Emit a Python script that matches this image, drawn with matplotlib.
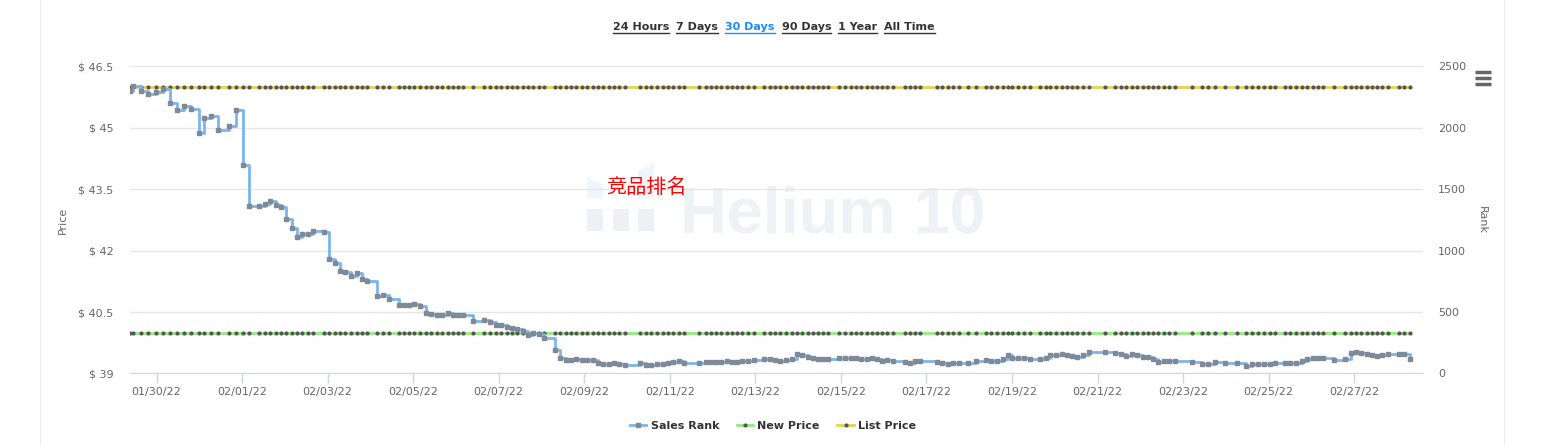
import datetime as dt
import matplotlib
matplotlib.use("Agg")
import matplotlib.pyplot as plt
import matplotlib.dates as mdates
from matplotlib.lines import Line2D
from matplotlib.patches import Rectangle, Polygon

plt.rcParams['font.family'] = ['DejaVu Sans', 'Noto Sans CJK SC']

# sales rank samples: days after 01/30/22 00:00, rank
rank_days = [-0.62, -0.54, -0.37, -0.19, -0.01, 0.145, 0.31, 0.48, 0.64, 0.80,
             0.99, 1.11, 1.27, 1.44, 1.69, 1.86, 2.03, 2.16, 2.40, 2.53,
             2.65, 2.79, 2.91, 3.03, 3.17, 3.28, 3.40, 3.53, 3.66, 3.91,
             4.03, 4.17, 4.29, 4.41, 4.54, 4.68, 4.80, 4.91, 5.16, 5.29,
             5.44, 5.67, 5.79, 5.90, 6.03, 6.16, 6.29, 6.41, 6.55, 6.67,
             6.81, 6.92, 7.05, 7.17, 7.41, 7.66, 7.80, 7.94, 8.05, 8.19,
             8.31, 8.43, 8.56, 8.69, 8.81, 8.94, 9.06, 9.32, 9.44, 9.57,
             9.69, 9.81, 9.94, 10.07, 10.20, 10.32, 10.44, 10.57, 10.69, 10.82,
             10.95, 11.30, 11.44, 11.55, 11.69, 11.85, 11.96, 12.08, 12.22, 12.33,
             12.69, 12.84, 12.96, 13.08, 13.20, 13.33, 13.45, 13.58, 13.69, 13.83,
             13.97, 14.21, 14.34, 14.46, 14.57, 14.71, 14.85, 14.98, 15.10, 15.22,
             15.34, 15.47, 15.59, 15.70, 15.96, 16.09, 16.23, 16.35, 16.48, 16.60,
             16.73, 16.85, 16.97, 17.08, 17.22, 17.50, 17.61, 17.73, 17.86, 18.24,
             18.37, 18.50, 18.61, 18.76, 18.98, 19.15, 19.39, 19.52, 19.64, 19.78,
             19.90, 20.01, 20.14, 20.28, 20.42, 20.65, 20.79, 20.90, 21.03, 21.16,
             21.28, 21.41, 21.53, 21.66, 21.80, 22.17, 22.40, 22.54, 22.66, 22.80,
             22.93, 23.07, 23.17, 23.29, 23.42, 23.55, 23.67, 23.81, 24.20, 24.45,
             24.59, 24.74, 24.99, 25.25, 25.47, 25.61, 25.75, 25.89, 26.03, 26.15,
             26.38, 26.51, 26.64, 26.77, 26.90, 27.03, 27.16, 27.27, 27.52, 27.78,
             27.92, 28.04, 28.17, 28.29, 28.42, 28.54, 28.66, 28.79, 29.05, 29.17,
             29.30]
rank_vals = [2299, 2340, 2301, 2275, 2291, 2313, 2199, 2144, 2179, 2155,
             1955, 2082, 2098, 1984, 2017, 2147, 1699, 1363, 1363, 1379,
             1406, 1374, 1353, 1260, 1187, 1113, 1135, 1138, 1160, 1154,
             934, 897, 837, 828, 793, 820, 771, 755, 631, 639,
             604, 560, 557, 555, 568, 547, 495, 484, 479, 476,
             495, 474, 479, 479, 430, 435, 419, 395, 397, 381,
             368, 360, 348, 316, 327, 319, 289, 194, 129, 110,
             112, 120, 110, 110, 110, 83, 75, 77, 83, 75,
             69, 83, 69, 72, 75, 77, 83, 91, 102, 88,
             88, 91, 96, 96, 96, 104, 96, 96, 99, 104,
             112, 118, 120, 110, 104, 107, 116, 159, 153, 137,
             129, 120, 120, 120, 126, 126, 126, 126, 116, 118,
             126, 118, 98, 110, 102, 96, 88, 102, 104, 96,
             88, 80, 88, 88, 88, 102, 112, 102, 102, 116,
             148, 124, 129, 129, 118, 118, 129, 148, 153, 161,
             153, 145, 137, 153, 173, 175, 167, 156, 142, 159,
             148, 138, 134, 118, 96, 102, 102, 102, 96, 80,
             80, 96, 88, 88, 63, 75, 80, 80, 80, 88,
             88, 88, 88, 104, 116, 129, 129, 129, 112, 118,
             169, 175, 164, 159, 153, 145, 153, 161, 159, 156,
             120]

new_price = 39.99
list_price = 45.99

price_ticks = [39, 40.5, 42, 43.5, 45, 46.5]
rank_ticks = [0, 500, 1000, 1500, 2000, 2500]
ranges = ["24 Hours", "7 Days", "30 Days", "90 Days", "1 Year", "All Time"]
active_range = "30 Days"

base = dt.datetime(2022, 1, 30)
times = [base + dt.timedelta(days=d) for d in rank_days]

fig = plt.figure(figsize=(15.54, 4.45), dpi=100)
fig.patch.set_facecolor('white')

# card borders
fig.add_artist(Line2D([40 / 1554, 40 / 1554], [0, 1], color='#eeeeee', lw=1))
fig.add_artist(Line2D([1504 / 1554, 1504 / 1554], [0, 1], color='#eeeeee', lw=1))

ax = fig.add_axes([130 / 1554, 0.1607, 1293 / 1554, 0.690])
ax2 = ax.twinx()

# watermark
ax.text(0.4254, 0.4606, "Helium 10", transform=ax.transAxes, fontsize=46.5,
        fontweight='bold', family='Liberation Sans', color='#eef1f6',
        ha='left', va='baseline', zorder=0)
for bx in (0.3534, 0.3735, 0.3929):
    ax.add_patch(Rectangle((bx, 0.464), 0.0124, 0.072, transform=ax.transAxes,
                           color='#edf0f5', zorder=0, lw=0))
ax.add_patch(Polygon([(0.3534, 0.571), (0.3658, 0.571), (0.3658, 0.615), (0.3534, 0.640)],
                     closed=True, transform=ax.transAxes, color='#eef6fd', zorder=0, lw=0))
ax.add_patch(Polygon([(0.3929, 0.571), (0.4053, 0.571), (0.4053, 0.685), (0.3929, 0.660)],
                     closed=True, transform=ax.transAxes, color='#eef6fd', zorder=0, lw=0))

ax.plot(times, [new_price] * len(times), color='#90ed7d', lw=2, marker='o',
        markersize=2.0, markerfacecolor='#555555', markeredgecolor='#555555', zorder=3)
ax.plot(times, [list_price] * len(times), color='#e4d354', lw=2, marker='o',
        markersize=2.0, markerfacecolor='#555555', markeredgecolor='#555555', zorder=3)

ax2.plot(times, rank_vals, color='#7cb5ec', lw=2, drawstyle='steps-post', zorder=4)
ax2.plot(times, rank_vals, ls='none', marker='s', markersize=3.2,
         markerfacecolor='#7f8a99', markeredgecolor='#7f8a99', zorder=5)

ax.set_xlim(base + dt.timedelta(days=-0.62), base + dt.timedelta(days=29.61))
ax.set_ylim(39, 46.5)
ax2.set_ylim(0, 2500)
ax.set_yticks(price_ticks)
ax.set_yticklabels(["$ %g" % p for p in price_ticks])
ax2.set_yticks(rank_ticks)

ax.xaxis.set_major_locator(mdates.DayLocator(interval=2))
ax.xaxis.set_major_formatter(mdates.DateFormatter('%m/%d/%y'))

ax.grid(axis='y', color='#e6e6e6', lw=1)
ax.set_axisbelow(True)
for a in (ax, ax2):
    for s in a.spines.values():
        s.set_visible(False)
ax.spines['bottom'].set_visible(True)
ax.spines['bottom'].set_color('#ccd6eb')

ax.tick_params(axis='x', colors='#ccd6eb', length=7, width=1, labelcolor='#666666',
               labelsize=8, pad=3)
ax.tick_params(axis='y', length=0, labelcolor='#666666', labelsize=8, pad=12)
ax2.tick_params(axis='y', length=0, labelcolor='#666666', labelsize=8, pad=11)

ax.set_ylabel("Price", color='#666666', fontsize=8, labelpad=7)
ax2.set_ylabel("Rank", color='#666666', fontsize=8, rotation=270, labelpad=15)

ax.text(0.368, 0.605, "竞品排名", transform=ax.transAxes, color='red', fontsize=14.5,
        family=['Noto Sans CJK SC', 'DejaVu Sans'], ha='left', va='center', zorder=6)

# range selector
x = 613 / 1554
fig.canvas.draw()
r = fig.canvas.get_renderer()
for name in ranges:
    t = fig.text(x, 1 - 27 / 445, name, fontsize=8, fontweight='bold',
                 color='#1a8cff' if name == active_range else '#333333',
                 ha='left', va='center')
    bb = t.get_window_extent(renderer=r)
    fig.add_artist(Line2D([bb.x0 / 1554, bb.x1 / 1554], [(bb.y0 - 1) / 445] * 2,
                          color=t.get_color(), lw=1))
    x = (bb.x1 + 7) / 1554

# menu icon
for yy in (72, 78, 84):
    fig.add_artist(Line2D([1475 / 1554, 1491 / 1554], [1 - yy / 445] * 2,
                          color='#666666', lw=2.5, solid_capstyle='butt'))

handles = [
    Line2D([], [], color='#7cb5ec', lw=2, marker='s', markersize=3.2,
           markerfacecolor='#7f8a99', markeredgecolor='#7f8a99'),
    Line2D([], [], color='#90ed7d', lw=2, marker='o', markersize=2.0,
           markerfacecolor='#555555', markeredgecolor='#555555'),
    Line2D([], [], color='#e4d354', lw=2, marker='o', markersize=2.0,
           markerfacecolor='#555555', markeredgecolor='#555555'),
]
leg = fig.legend(handles, ["Sales Rank", "New Price", "List Price"], loc='center',
                 bbox_to_anchor=(773 / 1554, 1 - 426 / 445), ncol=3, frameon=False,
                 handlelength=1.45, handletextpad=0.4, columnspacing=1.6,
                 prop={'size': 8, 'weight': 'bold'})
for t in leg.get_texts():
    t.set_color('#333333')

fig.savefig('out.png', dpi=100, facecolor='white')
